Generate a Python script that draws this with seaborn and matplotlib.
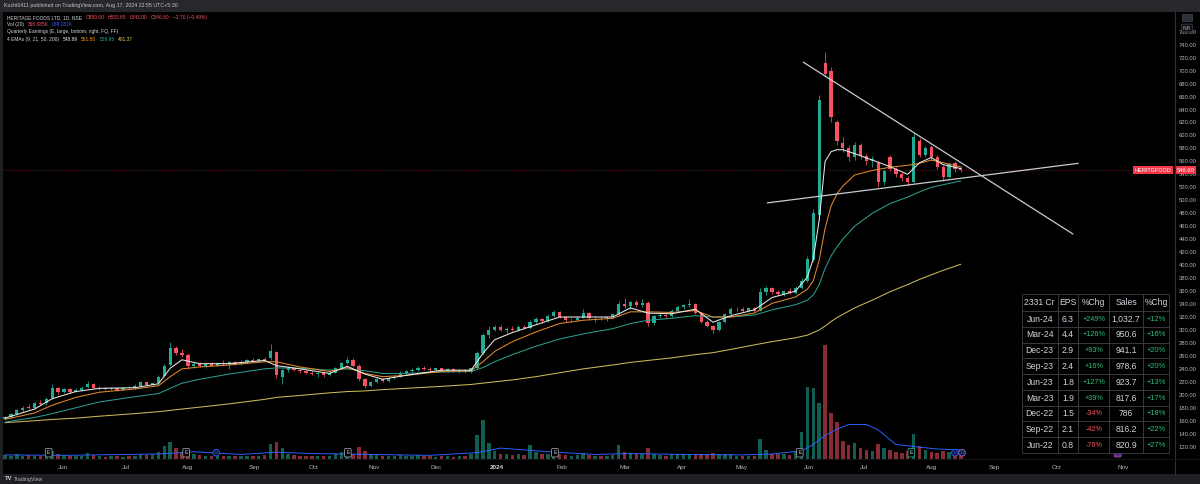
import matplotlib.pyplot as plt
import matplotlib.transforms as mtransforms
from matplotlib.patches import Rectangle
import pandas as pd
import seaborn as sns

# HERITAGE FOODS, one bar ~ 2 trading days, May-2023 .. 16-Aug-2024
opens = [163, 166, 171, 176, 181, 179, 188, 187, 195, 210,
         204, 209, 205, 208, 212, 217, 210, 211, 209, 210,
         208, 211, 210, 214, 219, 215, 218, 229, 246, 272,
         264, 262, 244, 248, 245, 247, 245, 249, 248, 250,
         247, 251, 253, 252, 255, 256, 266, 228, 238, 241,
         238, 236, 234, 232, 233, 230, 234, 241, 249, 254,
         245, 224, 214, 220, 224, 221, 226, 228, 234, 236,
         239, 242, 240, 238, 241, 237, 240, 236, 238, 235,
         241, 264, 292, 300, 304, 300, 302, 300, 305, 303,
         313, 317, 314, 322, 328, 320, 315, 316, 319, 326,
         318, 319, 318, 320, 324, 340, 337, 343, 338, 342,
         310, 321, 323, 321, 330, 335, 338, 340, 326, 313,
         306, 300, 312, 324, 332, 333, 330, 334, 330, 358,
         364, 358, 356, 360, 357, 365, 376, 408, 478, 712,
         700, 620, 588, 580, 566, 586, 568, 560, 558, 528,
         566, 549, 540, 534, 528, 592, 570, 582, 566, 552,
         536, 558, 550]
highs = [168, 172, 178, 182, 186, 189, 192, 196, 216, 212,
         211, 210, 210, 213, 221, 218, 213, 212, 212, 211,
         212, 214, 216, 222, 220, 220, 230, 248, 282, 276,
         270, 265, 251, 250, 249, 250, 251, 253, 252, 252,
         253, 255, 256, 257, 258, 279, 267, 240, 244, 243,
         240, 239, 237, 235, 234, 236, 243, 251, 259, 256,
         247, 226, 222, 226, 226, 228, 230, 236, 238, 241,
         244, 245, 243, 242, 242, 241, 241, 240, 240, 242,
         268, 296, 306, 308, 307, 304, 306, 307, 308, 316,
         320, 319, 324, 331, 330, 322, 318, 322, 332, 328,
         321, 322, 322, 326, 344, 350, 345, 346, 347, 344,
         323, 326, 325, 332, 338, 340, 347, 341, 328, 315,
         308, 314, 326, 335, 336, 335, 336, 335, 364, 368,
         366, 362, 362, 364, 368, 380, 414, 486, 662, 728,
         706, 624, 598, 585, 590, 588, 572, 568, 560, 548,
         570, 552, 544, 538, 604, 596, 584, 586, 570, 555,
         558, 560, 553.65]
lows = [162, 165, 169, 174, 178, 178, 185, 185, 194, 202,
        203, 203, 204, 206, 210, 209, 208, 207, 207, 206,
        207, 209, 209, 212, 213, 213, 217, 227, 244, 262,
        258, 240, 242, 243, 242, 244, 244, 246, 240, 246,
        246, 249, 250, 250, 252, 254, 226, 217, 235, 236,
        234, 232, 230, 228, 228, 229, 233, 240, 247, 243,
        222, 210, 212, 218, 219, 220, 224, 227, 231, 234,
        237, 238, 236, 236, 236, 235, 235, 234, 234, 234,
        240, 262, 288, 298, 298, 296, 299, 298, 301, 302,
        309, 311, 313, 320, 318, 313, 312, 314, 318, 316,
        313, 316, 314, 318, 322, 334, 332, 336, 336, 306,
        308, 318, 319, 320, 328, 332, 335, 324, 310, 304,
        296, 298, 310, 322, 329, 328, 328, 327, 329, 354,
        356, 353, 353, 355, 355, 363, 374, 405, 470, 690,
        620, 585, 575, 560, 562, 564, 555, 552, 520, 524,
        545, 536, 530, 522, 526, 566, 566, 562, 548, 530,
        534, 544, 543]
closes = [166, 170, 176, 180, 179, 188, 186, 194, 210, 204,
          209, 205, 208, 211, 217, 210, 211, 209, 210, 208,
          211, 210, 214, 219, 215, 218, 228, 245, 272, 264,
          261, 244, 248, 245, 247, 245, 249, 248, 250, 247,
          251, 253, 252, 255, 254, 268, 230, 238, 241, 238,
          236, 234, 232, 233, 230, 234, 241, 249, 254, 245,
          224, 214, 220, 224, 221, 226, 228, 234, 236, 239,
          242, 240, 238, 241, 237, 240, 236, 238, 235, 241,
          264, 292, 300, 304, 300, 302, 300, 305, 303, 313,
          317, 314, 322, 328, 320, 315, 316, 319, 326, 318,
          319, 318, 320, 324, 340, 337, 343, 338, 342, 310,
          321, 323, 321, 330, 335, 338, 340, 326, 313, 306,
          300, 312, 324, 332, 333, 330, 334, 330, 358, 364,
          358, 356, 360, 357, 365, 376, 410, 480, 655, 695,
          628, 592, 580, 566, 586, 568, 560, 563, 528, 545,
          549, 540, 534, 528, 598, 570, 580, 566, 552, 536,
          556, 549, 546.6]
# volume in millions of shares
volume = [0.45, 0.35, 0.5, 0.3, 0.4, 0.35, 0.3, 0.45, 0.9, 0.5,
          0.4, 0.3, 0.35, 0.3, 0.7, 0.4, 0.3, 0.25, 0.3, 0.3,
          0.25, 0.3, 0.35, 0.6, 0.4, 0.5, 0.8, 1.4, 1.9, 1.2,
          0.8, 1.1, 0.5, 0.4, 0.35, 0.3, 0.3, 0.35, 0.3, 0.3,
          0.3, 0.35, 0.3, 0.3, 0.4, 1.7, 1.9, 1.2, 0.5, 0.4,
          0.35, 0.3, 0.3, 0.3, 0.3, 0.35, 0.5, 0.8, 1.1, 0.6,
          1.3, 0.9, 0.5, 0.4, 0.35, 0.3, 0.3, 0.4, 0.35, 0.35,
          0.4, 0.3, 0.3, 0.25, 0.3, 0.3, 0.25, 0.3, 0.3, 0.5,
          2.6, 4.3, 1.8, 0.9, 0.6, 0.5, 0.4, 0.5, 0.4, 1.5,
          0.8, 0.5, 0.6, 0.9, 0.5, 0.4, 0.35, 0.4, 0.7, 0.4,
          0.35, 0.3, 0.3, 0.4, 1.5, 0.8, 0.6, 0.5, 0.5, 1.2,
          0.6, 0.4, 0.35, 0.5, 0.6, 0.5, 0.6, 0.5, 0.6, 0.5,
          0.7, 0.6, 0.5, 0.5, 0.35, 0.3, 0.35, 0.3, 2.2, 1.0,
          0.6, 0.5, 0.5, 0.45, 0.8, 3.0, 7.9, 7.8, 6.2, 12.5,
          5.1, 4.1, 2.0, 1.5, 1.8, 1.2, 1.0, 0.9, 1.6, 1.2,
          1.0, 0.8, 0.7, 0.9, 2.8, 1.4, 1.0, 0.8, 0.7, 0.9,
          0.8, 0.5, 0.366]

# EMA readings (bar index -> value)
ema_idx = [0, 5, 8, 12, 16, 22, 26, 28, 30, 33, 38, 44, 46, 50, 55, 58, 61, 64, 68, 74,
           79, 81, 83, 86, 90, 94, 98, 103, 106, 109, 113, 117, 120, 123, 127, 130, 134, 136,
           137, 138, 139, 140, 141, 142, 144, 147, 150, 153, 155, 157, 159, 162]
ema9 = [164, 178, 194, 205, 210, 211, 217, 241, 254, 248, 248, 253, 245, 240, 233, 244, 232, 224,
        230, 238, 238, 264, 285, 296, 308, 320, 320, 320, 334, 326, 325, 332, 312, 322, 331, 350,
        360, 382, 410, 470, 560, 575, 578, 578, 572, 562, 552, 540, 558, 566, 555, 548.89]
ema21 = [162, 172, 184, 196, 204, 209, 214, 228, 240, 243, 246, 251, 251, 243, 236, 242, 233, 228,
         230, 236, 237, 251, 267, 282, 297, 310, 315, 318, 328, 328, 327, 330, 320, 320, 326, 341,
         351, 363, 376, 408, 457, 491, 510, 522, 539, 546, 551, 554, 557, 562, 558, 551.5]
ema50 = [158, 165, 171, 180, 189, 197, 202, 210, 218, 224, 232, 240, 241.5, 241, 238, 240, 237, 233,
         233, 235, 236, 242, 251, 262, 275, 286, 294, 302, 310, 315, 318, 322, 320, 320, 323, 331,
         339, 346, 354, 370, 395, 414, 428, 440, 460, 480, 495, 505, 513, 520, 524, 529.95]
ema200 = [157, 160, 162, 164, 167, 171, 174, 176, 178, 181, 186, 193, 196, 199, 203, 205, 206, 208,
          210, 213, 216, 218, 220, 223, 228, 234, 240, 246, 250, 253, 257, 262, 265, 270, 277, 282,
          288, 292, 296, 300, 306, 313, 319, 324, 334, 346, 359, 370, 378, 385, 392, 401.37]

vma_idx = [0, 10, 26, 32, 40, 46, 52, 62, 72, 80, 84, 92, 100, 106, 115, 125, 130, 135, 137, 139,
           141, 143, 146, 148, 151, 155, 158, 162]
vma = [0.45, 0.4, 0.55, 0.8, 0.5, 0.75, 0.6, 0.5, 0.4, 0.7, 1.2, 0.8, 0.5, 0.6, 0.5, 0.45, 0.55,
       0.9, 1.6, 2.6, 3.3, 3.8, 3.8, 3.2, 1.6, 1.3, 1.1, 0.99]

# triangle trendlines
upper_x = [135.3, 181.0]
upper_y = [713, 448]
lower_x = [129.2, 181.9]
lower_y = [496, 557]

month_labels = ["Jun", "Jul", "Aug", "Sep", "Oct", "Nov", "Dec", "2024", "Feb", "Mar", "Apr",
                "May", "Jun", "Jul", "Aug", "Sep", "Oct", "Nov"]
month_pos = [9.8, 20.5, 31.0, 42.2, 52.4, 62.5, 73.1, 83.4, 94.4, 105.1, 114.7, 124.9, 136.3,
             145.6, 157.1, 167.6, 178.3, 189.5]

earnings_pos = [7.4, 30.7, 58.1, 93.2, 134.7, 153.6]
future_earnings_pos = [188.6]
dividend_pos = [35.8, 161.0, 162.2]

# quarterly earnings table
tbl_header = ["2331 Cr", "EPS", "%Chg", "Sales", "%Chg"]
quarters = ["Jun-24", "Mar-24", "Dec-23", "Sep-23", "Jun-23", "Mar-23", "Dec-22", "Sep-22", "Jun-22"]
eps = [6.3, 4.4, 2.9, 2.4, 1.8, 1.9, 1.5, 2.1, 0.8]
eps_chg = [249, 126, 93, 16, 127, 39, -34, -42, -76]
sales = [1032.7, 950.6, 941.1, 978.6, 923.7, 817.6, 786, 816.2, 820.9]
sales_chg = [12, 16, 20, 20, 13, 17, 18, 22, 27]

sns.set_theme(style="dark", rc={"axes.facecolor": "#000000", "figure.facecolor": "#000000"})
plt.rcParams['font.family'] = ['Liberation Sans', 'DejaVu Sans']

UP, DN = '#22ab94', '#f7525f'
TXT = '#d1d4dc'
GREY = '#9598a1'

df = pd.DataFrame({'o': opens, 'h': highs, 'l': lows, 'c': closes, 'v': volume})
df['i'] = range(len(df))
df['col'] = [UP if c >= o else DN for o, c in zip(df.o, df.c)]
df['bot'] = df[['o', 'c']].min(axis=1)
df['body'] = (df.c - df.o).abs().clip(lower=0.9)

W, H = 1200, 484
fig = plt.figure(figsize=(W / 100, H / 100), dpi=100)
fig.patch.set_facecolor('#000000')
rect = [3 / W, (H - 459) / H, 1172 / W, 447 / H]

# volume pane (behind)
axv = fig.add_axes(rect)
axv.set_axis_off()
axv.bar(df.i, df.v, width=0.6, color=df.col, alpha=0.55, linewidth=0)
sns.lineplot(x=vma_idx, y=vma, ax=axv, color='#2962ff', linewidth=0.7, estimator=None)
axv.set_ylim(0, 49.2)

# price pane
ax = fig.add_axes(rect, sharex=axv)
ax.patch.set_alpha(0)
ax.vlines(df.i, df.l, df.h, colors=df.col, linewidth=0.55, zorder=3)
ax.bar(df.i, df.body, bottom=df.bot, width=0.55, color=df.col, linewidth=0, zorder=4)

sns.lineplot(x=ema_idx, y=ema200, ax=ax, color='#cbb95a', linewidth=0.75, estimator=None, zorder=5)
sns.lineplot(x=ema_idx, y=ema50, ax=ax, color='#2a9d8f', linewidth=0.75, estimator=None, zorder=5)
sns.lineplot(x=ema_idx, y=ema21, ax=ax, color='#e08a2c', linewidth=0.75, estimator=None, zorder=5)
sns.lineplot(x=ema_idx, y=ema9, ax=ax, color='#e8e8e8', linewidth=0.75, estimator=None, zorder=5)
sns.lineplot(x=upper_x, y=upper_y, ax=ax, color='#c9ccd3', linewidth=0.9, estimator=None, zorder=6)
sns.lineplot(x=lower_x, y=lower_y, ax=ax, color='#c9ccd3', linewidth=0.9, estimator=None, zorder=6)

last = closes[-1]
ax.axhline(last, color='#f23645', linewidth=0.5, linestyle=(0, (1, 2)), alpha=0.7, zorder=2)

ax.set_xlim(-0.34, 198.3)
ax.set_ylim(101, 790.4)
ax.grid(False)
for s in ax.spines.values():
    s.set_visible(False)
ax.set_xlabel('')
ax.set_ylabel('')
ax.yaxis.tick_right()
ax.set_yticks(range(120, 761, 20))
ax.set_yticklabels([f"{v:.2f}" for v in range(120, 761, 20)])
ax.tick_params(axis='y', length=0, pad=2.5, labelsize=4.2, colors='#b2b5be')
ax.set_xticks(month_pos)
ax.set_xticklabels(month_labels)
ax.tick_params(axis='x', length=0, pad=4, labelsize=4.6, colors='#b2b5be')
for lab in ax.get_xticklabels():
    if lab.get_text() == "2024":
        lab.set_fontweight('bold')
        lab.set_color(TXT)

# price tags
tr = mtransforms.blended_transform_factory(ax.transAxes, ax.transData)
ax.text(1.0015, last, f"{last:.2f}", transform=tr, ha='left', va='center', fontsize=4.2,
        color='white', bbox=dict(boxstyle='square,pad=0.3', fc='#f23645', ec='none'), zorder=8)
ax.text(0.9972, last, "HERITGFOOD", transform=tr, ha='right', va='center', fontsize=4.0,
        color='white', bbox=dict(boxstyle='square,pad=0.3', fc='#f23645', ec='none'), zorder=8)

# events along the bottom
tb = mtransforms.blended_transform_factory(ax.transData, ax.transAxes)
for k in earnings_pos:
    ec = UP if k == earnings_pos[-1] else GREY
    ax.text(k, 0.014, 'E', transform=tb, ha='center', va='center', fontsize=3.6, color=TXT,
            bbox=dict(boxstyle='round,pad=0.35,rounding_size=0.25', fc='black', ec=ec, lw=0.6), zorder=7)
for k in future_earnings_pos:
    ax.text(k, 0.014, 'E', transform=tb, ha='center', va='center', fontsize=3.6, color=TXT,
            bbox=dict(boxstyle='round,pad=0.35,rounding_size=0.25', fc='#5e2a84', ec='#ab47bc', lw=0.6), zorder=7)
for j, k in enumerate(dividend_pos):
    ec = '#9c6ade' if j == len(dividend_pos) - 1 else '#2962ff'
    ax.text(k, 0.014, 'D', transform=tb, ha='center', va='center', fontsize=3.2, color='#2962ff',
            bbox=dict(boxstyle='circle,pad=0.3', fc='#0b1a3a', ec=ec, lw=0.6), zorder=7)

# overlay in pixel units for frame, legend and table
ov = fig.add_axes([0, 0, 1, 1])
ov.set_xlim(0, W)
ov.set_ylim(H, 0)
ov.set_axis_off()
ov.add_patch(Rectangle((0, 0), W, 11.7, fc='#27282c', ec='none'))
ov.add_patch(Rectangle((0, 473.5), W, 10.5, fc='#1f2024', ec='none'))
ov.add_patch(Rectangle((0, 11.7), 2.7, 462, fc='#1f2024', ec='none'))
ov.plot([1175, 1175], [11.7, 473.5], color='#2a2e39', lw=0.8)
ov.plot([0, W], [459, 459], color='#16181d', lw=0.6)
ov.text(4, 6, "Kuchi0411 published on TradingView.com, Aug 17, 2024 22:55 UTC+5:30",
        fontsize=3.8, color='#c4c7cf', va='center')
ov.text(5, 479, "TV", fontsize=4.2, fontweight='bold', color=TXT, va='center')
ov.text(14, 479, "TradingView", fontsize=3.8, color='#b2b5be', va='center')
ov.text(1187, 28, "INR", fontsize=3.4, color='#b2b5be', ha='center', va='center',
        bbox=dict(boxstyle='round,pad=0.3', fc='#111', ec='#434651', lw=0.5))
ov.add_patch(Rectangle((1182, 13.5), 10, 7, fc='#2a2e39', ec='#434651', lw=0.5))

renderer = fig.canvas.get_renderer()


def text_row(x, y, parts, size=3.5):
    for s, c in parts:
        t = ov.text(x, y, s, fontsize=size, color=c, va='center', ha='left')
        x += t.get_window_extent(renderer=renderer).width + 3.5


RED = '#f7525f'
text_row(7, 17.3, [("HERITAGE FOODS LTD, 1D, NSE", TXT), ("O550.00", RED), ("H553.65", RED),
                   ("L543.00", RED), ("C546.60", RED), ("\u22122.70 (\u22120.49%)", RED)])
text_row(7, 24.5, [("Vol (20)", TXT), ("366.085K", RED), ("989.281K", '#2962ff')])
text_row(7, 32, [("Quarterly Earnings (E, large, bottom, right, FQ, FF)", TXT)])
text_row(7, 39.5, [("4 EMAs (9, 21, 50, 200)", TXT), ("548.89", '#e8e8e8'), ("551.50", '#ff9800'),
                   ("529.95", '#22ab94'), ("401.37", '#e6d25a')])

# table
col_x = [1021.7, 1057.7, 1078.3, 1109.0, 1143.3, 1169.3]
row_y = [294, 311] + [311 + 15.78 * (r + 1) for r in range(len(quarters))]
POS, NEG = '#2fc27d', '#f7525f'


def cell(ci, ri, s, color=TXT, size=6.2):
    x0, x1 = col_x[ci], col_x[ci + 1]
    y0, y1 = row_y[ri], row_y[ri + 1]
    ov.add_patch(Rectangle((x0, y0), x1 - x0, y1 - y0, fc='#000000', ec='#3a3d45', lw=0.6, zorder=3))
    ov.text((x0 + x1) / 2, (y0 + y1) / 2 + 0.3, s, fontsize=size, color=color, ha='center',
            va='center', zorder=4)


for ci, h in enumerate(tbl_header):
    cell(ci, 0, h)
for r, q in enumerate(quarters):
    cell(0, r + 1, q)
    cell(1, r + 1, f"{eps[r]:.1f}")
    cell(2, r + 1, f"{eps_chg[r]:+d}%", POS if eps_chg[r] > 0 else NEG, 5.2)
    sv = f"{sales[r]:,.1f}"
    if sv.endswith(".0"):
        sv = sv[:-2]
    cell(3, r + 1, sv)
    cell(4, r + 1, f"{sales_chg[r]:+d}%", POS, 5.4)

fig.savefig('out.png', dpi=100, facecolor=fig.get_facecolor())
